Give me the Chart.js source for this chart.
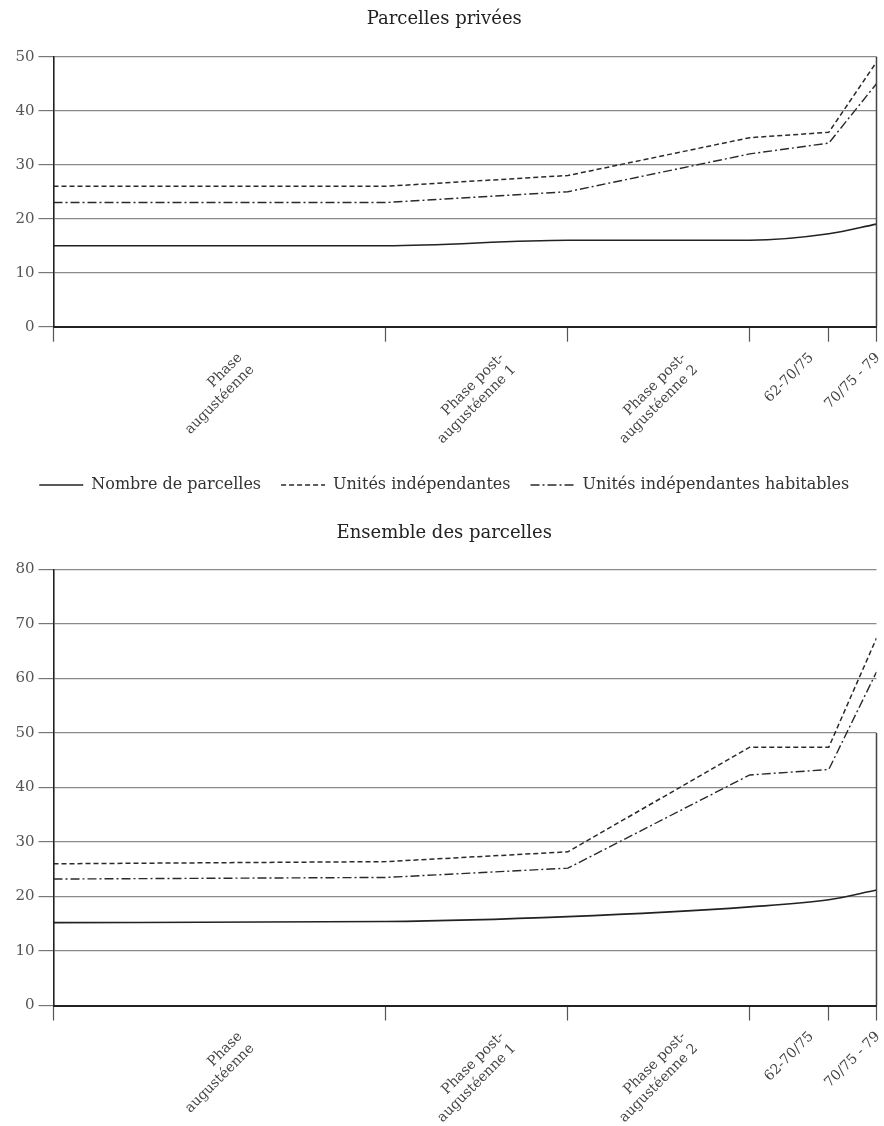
<!DOCTYPE html>
<html lang="fr">
<head>
<meta charset="utf-8">
<script src="https://cdn.jsdelivr.net/npm/chart.js@4.4.1/dist/chart.umd.min.js"></script>
<style>
  html, body { margin: 0; padding: 0; background: #ffffff; }
  canvas { display: block; }
</style>
</head>
<body>
<canvas id="c1" width="884" height="510"></canvas>
<canvas id="c2" width="884" height="616"></canvas>
<script>
// ---- Data ----
const phaseLabels = [
  ['Phase', 'augustéenne'],
  ['Phase post-', 'augustéenne 1'],
  ['Phase post-', 'augustéenne 2'],
  '62-70/75',
  '70/75 - 79'
];
// relative position of the phase boundaries on the time axis (0..100)
const phaseBoundaries = [0, 40.4, 62.5, 84.6, 94.2, 100];

const seriesNames = ['Nombre de parcelles', 'Unités indépendantes', 'Unités indépendantes habitables'];

const priveesParcelles   = [15, 15, 16, 16, 17.2, 19];
const priveesUnites      = [26, 26, 28, 35, 36, 49];
const priveesHabitables  = [23, 23, 25, 32, 34, 45];

const ensembleParcelles  = [15.2, 15.4, 16.3, 18.1, 19.4, 21.2];
const ensembleUnites     = [26, 26.4, 28.2, 47.4, 47.4, 67.4];
const ensembleHabitables = [23.2, 23.5, 25.2, 42.3, 43.3, 61.2];

const yTicksPrivees = [0, 10, 20, 30, 40, 50];
const yTicksEnsemble = [0, 10, 20, 30, 40, 50, 60, 70, 80];

// ---- Helpers ----
const FONT = "'DejaVu Serif', 'Liberation Serif', serif";
const XFONT_SIZE = 14;
Chart.defaults.font.family = FONT;
Chart.defaults.color = '#333';

const midValues = phaseLabels.map((_, i) => (phaseBoundaries[i] + phaseBoundaries[i + 1]) / 2);

// horizontal offset (px) so that each rotated (45°, right-aligned) label block is centred on its segment
const measureCtx = document.createElement('canvas').getContext('2d');
measureCtx.font = XFONT_SIZE + "px " + FONT;
const labelShiftPx = phaseLabels.map(l => {
  const lines = Array.isArray(l) ? l : [l];
  const lh = XFONT_SIZE * 1.2, c = Math.SQRT1_2;
  let lo = Infinity, hi = -Infinity;
  lines.forEach((t, i) => {
    const end = i * lh * c;
    const start = end - measureCtx.measureText(t).width * c;
    lo = Math.min(lo, start); hi = Math.max(hi, end);
  });
  return -(lo + hi) / 2;
});

function points(arr) {
  return phaseBoundaries.map((x, i) => ({ x: x, y: arr[i] }));
}

function makeDatasets(a, b, c) {
  return [
    { label: seriesNames[0], data: points(a), borderColor: '#222', borderWidth: 1.6,
      cubicInterpolationMode: 'monotone', pointRadius: 0 },
    { label: seriesNames[1], data: points(b), borderColor: '#2a2a2a', borderWidth: 1.5,
      borderDash: [5, 3], tension: 0, pointRadius: 0 },
    { label: seriesNames[2], data: points(c), borderColor: '#2a2a2a', borderWidth: 1.4,
      borderDash: [9, 3, 2, 3], tension: 0, pointRadius: 0 }
  ];
}

const rightEdge = {
  id: 'rightEdge',
  afterDatasetsDraw(chart, args, opts) {
    const { ctx, chartArea, scales } = chart;
    const yTop = scales.y.getPixelForValue(opts.from);
    const yBot = scales.y.getPixelForValue(0);
    ctx.save();
    ctx.strokeStyle = '#444';
    ctx.lineWidth = 1.5;
    ctx.beginPath();
    ctx.moveTo(chartArea.right, yTop);
    ctx.lineTo(chartArea.right, yBot);
    ctx.stroke();
    ctx.restore();
  }
};

function makeOptions(cfg) {
  return {
    responsive: false,
    animation: false,
    devicePixelRatio: 1,
    layout: { padding: { left: 12, right: 7.5, top: 0, bottom: cfg.padBottom } },
    plugins: {
      title: {
        display: true,
        text: cfg.title,
        color: '#222',
        font: { family: FONT, size: 18, weight: 'normal' },
        padding: { top: cfg.titleTop, bottom: cfg.titleBottom }
      },
      legend: cfg.legend ? {
        display: true,
        position: 'bottom',
        labels: {
          usePointStyle: true,
          pointStyle: 'line',
          pointStyleWidth: 44,
          padding: 20,
          color: '#333',
          font: { family: FONT, size: 16 },
          generateLabels(chart) {
            const items = Chart.defaults.plugins.legend.labels.generateLabels(chart);
            items.forEach(it => {
              const ds = chart.data.datasets[it.datasetIndex];
              it.lineDash = ds.borderDash || [];
              it.strokeStyle = ds.borderColor;
              it.lineWidth = ds.borderWidth;
            });
            return items;
          }
        }
      } : { display: false },
      tooltip: { enabled: false },
      rightEdge: { from: cfg.edgeFrom }
    },
    scales: {
      x: {
        type: 'linear',
        min: phaseBoundaries[0],
        max: phaseBoundaries[phaseBoundaries.length - 1],
        afterBuildTicks(scale) {
          const unitsPerPx = (scale.max - scale.min) / (scale.width || 823);
          const t = phaseBoundaries.map(v => ({ value: v }))
            .concat(midValues.map((v, i) => ({ value: v + labelShiftPx[i] * unitsPerPx, phase: i })));
          t.sort((a, b) => a.value - b.value);
          scale.ticks = t;
        },
        afterFit(scale) {
          scale.height = cfg.xHeight;
          scale.paddingLeft = 0;
          scale.paddingRight = 0;
        },
        ticks: {
          autoSkip: false,
          minRotation: 45,
          maxRotation: 45,
          padding: 8,
          color: '#444',
          font: { family: FONT, size: XFONT_SIZE },
          callback(value, index, ticks) {
            const p = ticks[index] && ticks[index].phase;
            return p !== undefined ? phaseLabels[p] : '';
          }
        },
        grid: {
          drawOnChartArea: false,
          drawTicks: true,
          tickLength: 15,
          tickWidth: 1.2,
          tickColor(ctx) {
            return ctx.tick && ctx.tick.phase !== undefined ? 'rgba(0,0,0,0)' : '#555';
          }
        },
        border: { display: true, color: '#222', width: 2 }
      },
      y: {
        min: 0,
        max: cfg.yTicks[cfg.yTicks.length - 1],
        afterBuildTicks(scale) { scale.ticks = cfg.yTicks.map(v => ({ value: v })); },
        afterFit(scale) { scale.width = 41.5; },
        ticks: {
          padding: 4,
          color: '#555',
          font: { family: FONT, size: 15 }
        },
        grid: {
          color: '#8a8a8a',
          lineWidth: 1.2,
          tickLength: 15,
          tickColor: '#777'
        },
        border: { display: true, color: '#222', width: 1.6 }
      }
    }
  };
}

new Chart(document.getElementById('c1'), {
  type: 'line',
  data: { datasets: makeDatasets(priveesParcelles, priveesUnites, priveesHabitables) },
  options: makeOptions({
    title: 'Parcelles privées', titleTop: 8.7, titleBottom: 26.4,
    legend: true, padBottom: 7, xHeight: 130.3, yTicks: yTicksPrivees, edgeFrom: 50
  }),
  plugins: [rightEdge]
});

new Chart(document.getElementById('c2'), {
  type: 'line',
  data: { datasets: makeDatasets(ensembleParcelles, ensembleUnites, ensembleHabitables) },
  options: makeOptions({
    title: 'Ensemble des parcelles', titleTop: 12.2, titleBottom: 25.7,
    legend: false, padBottom: 0, xHeight: 120.5, yTicks: yTicksEnsemble, edgeFrom: 50
  }),
  plugins: [rightEdge]
});
</script>
</body>
</html>
